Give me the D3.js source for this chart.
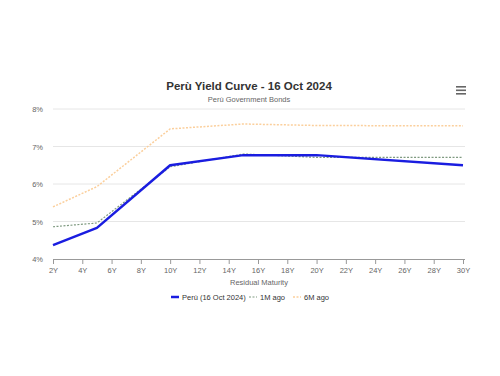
<!DOCTYPE html>
<html>
<head>
  <script src="https://d3js.org/d3.v7.min.js"></script>
  <style>
    body { margin: 0; background: #fff; font-family: "Liberation Sans", Arial, sans-serif; }
    svg { display: block; }
  </style>
</head>
<body>
<svg id="chart" width="500" height="376"></svg>
<script>
  // maturities in years
  var maturities = [2, 5, 10, 15, 20, 30];
  var peru = [4.37, 4.83, 6.50, 6.77, 6.77, 6.50];
  var oneMonth = [4.86, 4.96, 6.46, 6.80, 6.71, 6.71];
  var sixMonth = [5.39, 5.93, 7.47, 7.60, 7.56, 7.55];
  var xTicks = [2, 4, 6, 8, 10, 12, 14, 16, 18, 20, 22, 24, 26, 28, 30];
  var yTicks = [4, 5, 6, 7, 8];

  var series = [
    { name: "Perù (16 Oct 2024)", values: peru, color: "#1a1de0", width: 2.5, dash: null },
    { name: "1M ago", values: oneMonth, color: "#7f9a80", width: 1.2, dash: "2,1.5" },
    { name: "6M ago", values: sixMonth, color: "#fbcf9c", width: 1.5, dash: "2,1.5" }
  ];

  var svg = d3.select("#chart");
  var x = d3.scaleLinear([2, 30], [53, 463]);
  var y = d3.scaleLinear([4, 8], [259, 109]);

  // title
  svg.append("text").attr("x", 249).attr("y", 90).attr("text-anchor", "middle")
    .attr("font-size", 11.5).attr("font-weight", "bold").attr("fill", "#333")
    .text("Perù Yield Curve - 16 Oct 2024");
  svg.append("text").attr("x", 249).attr("y", 102).attr("text-anchor", "middle")
    .attr("font-size", 7.5).attr("fill", "#666")
    .text("Perù Government Bonds");

  // menu icon
  [0, 3.5, 7].forEach(function (o) {
    svg.append("rect").attr("x", 456).attr("y", 86 + o).attr("width", 10).attr("height", 1.6)
      .attr("fill", "#666");
  });

  // grid
  svg.append("g").selectAll("line").data(yTicks.slice(1)).join("line")
    .attr("x1", 53).attr("x2", 465)
    .attr("y1", d => y(d)).attr("y2", d => y(d))
    .attr("stroke", "#e6e6e6").attr("stroke-width", 1);

  svg.append("g").selectAll("text").data(yTicks).join("text")
    .attr("x", 43).attr("y", d => y(d) + 3).attr("text-anchor", "end")
    .attr("font-size", 7.5).attr("fill", "#666")
    .text(d => d + "%");

  // x axis
  var xAxis = d3.axisBottom(x).tickValues(xTicks).tickFormat(d => d + "Y")
    .tickSizeOuter(0).tickSize(5).tickPadding(4);
  var gx = svg.append("g").attr("transform", "translate(0,259)").call(xAxis);
  gx.select(".domain").attr("stroke", "#999").attr("d", "M53,0.5H465");
  gx.selectAll(".tick line").attr("stroke", "#999");
  gx.selectAll(".tick text").attr("fill", "#666").attr("font-size", 7.5)
    .attr("font-family", "Liberation Sans, Arial, sans-serif");

  svg.append("text").attr("x", 259).attr("y", 285).attr("text-anchor", "middle")
    .attr("font-size", 7.5).attr("fill", "#666").text("Residual Maturity");

  // lines
  var line = d3.line().x((d, i) => x(maturities[i])).y(d => y(d));
  series.slice().reverse().forEach(function (s) {
    svg.append("path").attr("d", line(s.values)).attr("fill", "none")
      .attr("stroke", s.color).attr("stroke-width", s.width)
      .attr("stroke-dasharray", s.dash).attr("stroke-linejoin", "round");
  });

  // legend
  var legX = [171, 249, 293];
  series.forEach(function (s, i) {
    var g = svg.append("g").attr("transform", "translate(" + legX[i] + ",297)");
    g.append("line").attr("x1", 0).attr("x2", 8).attr("y1", 0).attr("y2", 0)
      .attr("stroke", s.color).attr("stroke-width", s.width)
      .attr("stroke-dasharray", s.dash);
    g.append("text").attr("x", 11).attr("y", 3).attr("font-size", 7.5)
      .attr("fill", "#333").text(s.name);
  });
</script>
</body>
</html>
